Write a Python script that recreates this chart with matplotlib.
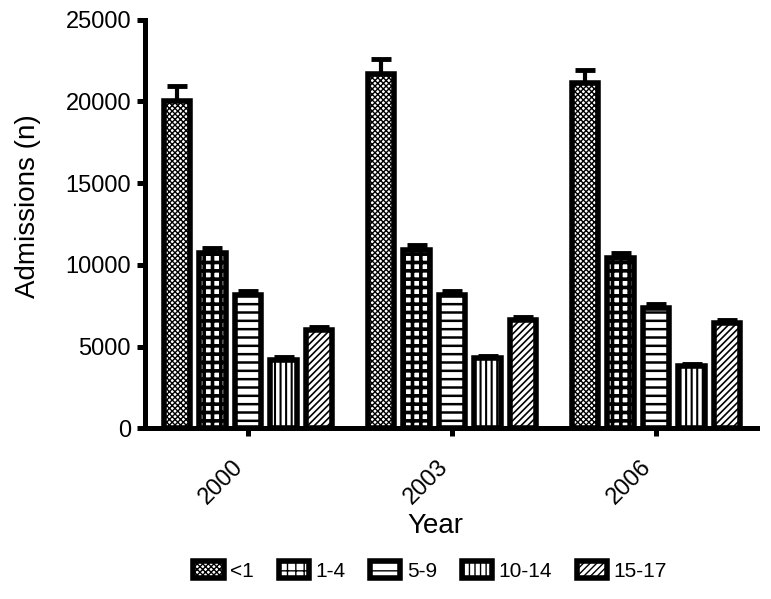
import matplotlib
matplotlib.use("Agg")
import matplotlib.pyplot as plt
import numpy as np

# ── data ─────────────────────────────────────────────
years = ["2000", "2003", "2006"]
age_groups = ["<1", "1-4", "5-9", "10-14", "15-17"]

adm_lt1 = [20050, 21700, 21100]
adm_1_4 = [10750, 10900, 10400]
adm_5_9 = [8150, 8150, 7350]
adm_10_14 = [4200, 4300, 3800]
adm_15_17 = [6000, 6600, 6450]

err_lt1 = [900, 900, 850]
err_1_4 = [300, 300, 300]
err_5_9 = [250, 250, 250]
err_10_14 = [150, 150, 150]
err_15_17 = [200, 200, 200]

values = [adm_lt1, adm_1_4, adm_5_9, adm_10_14, adm_15_17]
errors = [err_lt1, err_1_4, err_5_9, err_10_14, err_15_17]
hatches = ["xxxxxx", "++", "--", "|||", "/////"]
hatch_lws = [1.0, 2.6, 1.8, 1.5, 1.2]

plt.rcParams["font.family"] = ["Liberation Sans", "DejaVu Sans"]

fig = plt.figure(figsize=(7.71, 5.99), dpi=100)
ax = fig.add_axes([0.188, 0.285, 0.794, 0.682])

x = np.arange(len(years))
step = 0.174
width = 0.13
lw = 4.0

handles = []
for i, (vals, errs, h) in enumerate(zip(values, errors, hatches)):
    pos = x + (i - 2) * step
    # hatch linewidth is picked up when the patches are made
    with plt.rc_context({"hatch.linewidth": hatch_lws[i]}):
        bars = ax.bar(pos, vals, width, color="white", edgecolor="black",
                      linewidth=lw, hatch=h, label=age_groups[i], zorder=2)
    for b in bars:
        if hasattr(b, "set_hatch_linewidth"):
            b.set_hatch_linewidth(hatch_lws[i])
    ax.errorbar(pos, vals, yerr=[np.zeros(len(errs)), errs], fmt="none",
                ecolor="black", elinewidth=3, capsize=7, capthick=3.5, zorder=1)
    handles.append(bars)

ax.set_xlim(-0.505, 2.495)
ax.set_ylim(0, 25000)
ax.set_yticks([0, 5000, 10000, 15000, 20000, 25000])
ax.set_xticks(x)
ax.set_xticklabels(years, rotation=45, ha="right", va="top")

for side in ["top", "right"]:
    ax.spines[side].set_visible(False)
for side in ["left", "bottom"]:
    ax.spines[side].set_linewidth(3.6)

ax.tick_params(axis="both", width=3.6, length=6, labelsize=17, pad=4)
ax.tick_params(axis="x", pad=14)

fig.text(28 / 771, 1 - 206 / 599, "Admissions (n)", fontsize=20,
         rotation=90, ha="center", va="center")
fig.text(435 / 771, 1 - 526 / 599, "Year", fontsize=20, ha="center", va="center")

leg = fig.legend(handles=handles, labels=age_groups, loc="center",
                 bbox_to_anchor=(430 / 771, 1 - 571 / 599), ncol=5, frameon=False,
                 fontsize=15, handlelength=1.45, handleheight=0.82, columnspacing=1.2,
                 handletextpad=0.3)

fig.savefig("out.png", dpi=100)
